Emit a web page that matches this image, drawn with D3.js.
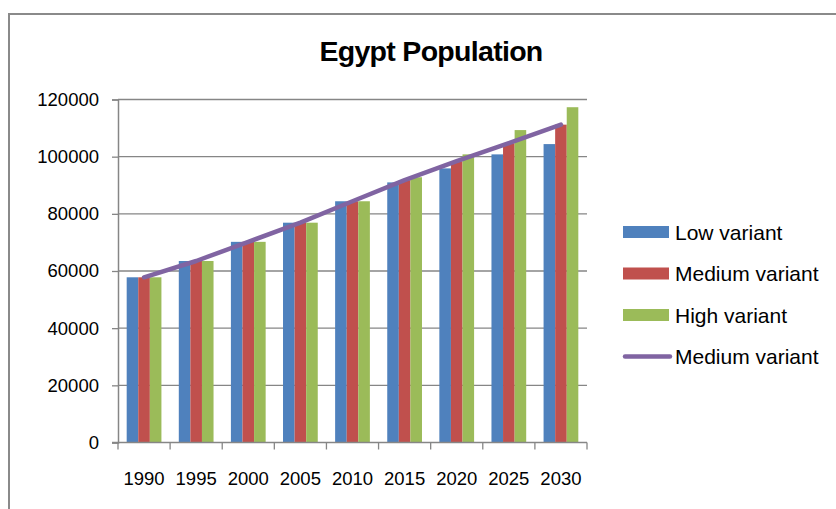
<!DOCTYPE html>
<html>
<head>
<meta charset="utf-8">
<script src="https://cdn.jsdelivr.net/npm/d3@7"></script>
<style>
  html, body { margin: 0; padding: 0; background: #fff; }
  svg { display: block; font-family: "Liberation Sans", Arial, sans-serif; }
</style>
</head>
<body>
<svg id="chart" width="836" height="509"></svg>
<script>
const years = ["1990", "1995", "2000", "2005", "2010", "2015", "2020", "2025", "2030"];
const lowVariant = [57800, 63500, 70200, 76900, 84400, 91000, 95900, 100800, 104400];
const mediumVariant = [57800, 63500, 70200, 76900, 84400, 91800, 98400, 104700, 111200];
const highVariant = [57800, 63500, 70200, 76900, 84400, 92800, 100800, 109300, 117300];
const yTicks = [0, 20000, 40000, 60000, 80000, 100000, 120000];
const seriesNames = ["Low variant", "Medium variant", "High variant"];
const lineName = "Medium variant";
const colors = ["#4F81BD", "#C0504D", "#9BBB59"];
const lineColor = "#8064A2";
const title = "Egypt Population";

const svg = d3.select("#chart");
const grid = "#868686";

// outer frame
svg.append("path")
  .attr("d", "M9,509 L9,14 L836,14")
  .attr("fill", "none").attr("stroke", "#8a8a8a").attr("stroke-width", 2);

const plot = { left: 118, right: 587, top: 99.5, bottom: 442.5 };

const x0 = d3.scaleBand().domain(years).range([plot.left, plot.right]).padding(0);
const bw = x0.bandwidth() / 4.5;
const x1 = d3.scaleBand().domain(seriesNames)
  .range([bw * 0.75, x0.bandwidth() - bw * 0.75]).padding(0);
const y = d3.scaleLinear().domain([0, 120000]).range([plot.bottom, plot.top]);

// gridlines
svg.append("g").selectAll("line").data(yTicks.filter(d => d > 0)).join("line")
  .attr("x1", plot.left).attr("x2", plot.right)
  .attr("y1", d => y(d)).attr("y2", d => y(d))
  .attr("stroke", grid).attr("stroke-width", 1.3);

// y axis
const yAxis = svg.append("g").attr("transform", `translate(${plot.left},0)`)
  .call(d3.axisLeft(y).tickValues(yTicks).tickSize(6).tickPadding(13).tickFormat(d3.format("d")));
yAxis.select(".domain").attr("stroke", grid).attr("stroke-width", 1.5);
yAxis.selectAll(".tick line").attr("stroke", grid).attr("stroke-width", 1.3);
yAxis.selectAll("text").attr("font-size", "18.5px").attr("fill", "#000")
  .attr("font-family", "Liberation Sans, Arial, sans-serif");

// bars
const seriesData = [lowVariant, mediumVariant, highVariant];
const bars = svg.append("g");
seriesData.forEach((vals, si) => {
  bars.selectAll(null).data(vals).join("rect")
    .attr("x", (d, i) => x0(years[i]) + x1(seriesNames[si]))
    .attr("width", x1.bandwidth())
    .attr("y", d => y(d))
    .attr("height", d => y(0) - y(d))
    .attr("fill", colors[si]);
});

// x axis (ticks at band boundaries)
const xAxisG = svg.append("g").attr("transform", `translate(0,${plot.bottom})`);
xAxisG.append("line").attr("x1", plot.left - 6).attr("x2", plot.right)
  .attr("stroke", grid).attr("stroke-width", 1.5);
const boundaries = years.map(d => x0(d)).concat([plot.right]);
xAxisG.selectAll(".tk").data(boundaries).join("line").attr("class", "tk")
  .attr("x1", d => d).attr("x2", d => d).attr("y1", 0).attr("y2", 7)
  .attr("stroke", grid).attr("stroke-width", 1.3);
xAxisG.selectAll("text").data(years).join("text")
  .attr("x", d => x0(d) + x0.bandwidth() / 2).attr("y", 42.5)
  .attr("text-anchor", "middle").attr("font-size", "18.5px").attr("fill", "#000")
  .text(d => d);

// line
const line = d3.line()
  .x((d, i) => x0(years[i]) + x1("Medium variant") + x1.bandwidth() / 2)
  .y(d => y(d));
svg.append("path").datum(mediumVariant)
  .attr("d", line).attr("fill", "none")
  .attr("stroke", lineColor).attr("stroke-width", 4.5)
  .attr("stroke-linecap", "round").attr("stroke-linejoin", "round");

// title
svg.append("text").attr("x", 431).attr("y", 61).attr("text-anchor", "middle")
  .attr("font-size", "28.5px").attr("font-weight", "bold").attr("letter-spacing", "-0.7px")
  .attr("fill", "#000").text(title);

// legend
const legendItems = seriesNames.map((n, i) => ({ name: n, color: colors[i], type: "rect" }))
  .concat([{ name: lineName, color: lineColor, type: "line" }]);
const legend = svg.append("g");
const rowY = [232, 273.5, 315, 356.5];
legendItems.forEach((it, i) => {
  const g = legend.append("g").attr("transform", `translate(0,${rowY[i]})`);
  if (it.type === "rect") {
    g.append("rect").attr("x", 623).attr("y", -6).attr("width", 46).attr("height", 12).attr("fill", it.color);
  } else {
    g.append("line").attr("x1", 625).attr("x2", 670).attr("y1", 0).attr("y2", 0)
      .attr("stroke", it.color).attr("stroke-width", 4.5).attr("stroke-linecap", "round");
  }
  g.append("text").attr("x", 675).attr("y", 0).attr("dy", "0.36em")
    .attr("font-size", "21px").attr("fill", "#000").text(it.name);
});
</script>
</body>
</html>
